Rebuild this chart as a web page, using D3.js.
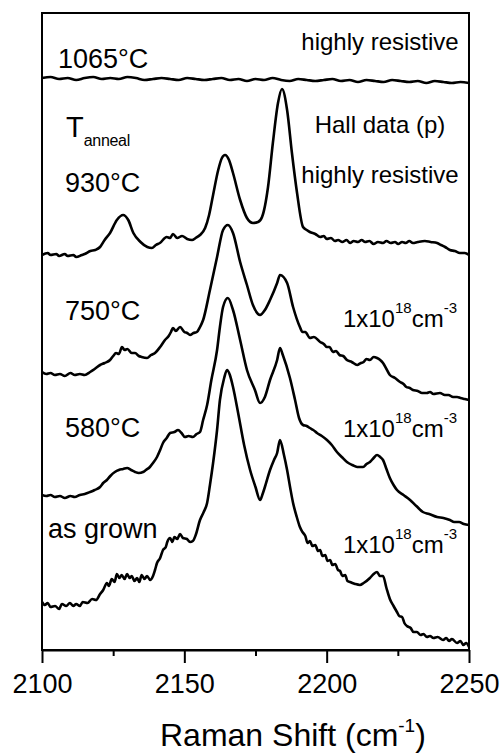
<!DOCTYPE html>
<html>
<head>
<meta charset="utf-8">
<script src="https://cdn.jsdelivr.net/npm/d3@7"></script>
<style>
  body { margin: 0; background: #fff; }
  svg { display: block; font-family: "Liberation Sans", Arial, sans-serif; }
  text { fill: #000; }
</style>
</head>
<body>
<div id="chart"></div>
<script>
// Raman spectra vs anneal temperature
// values: [Raman shift (cm-1), intensity (a.u., stacked)]

const xTicks = [2100, 2150, 2200, 2250]
const xMinorTicks = [2125, 2175, 2225]

const spec1065 = [
  [2100, 572], [2103, 573], [2106, 571], [2109, 572], [2112, 570], [2115, 572], [2118, 573],
  [2121, 571], [2124, 572], [2127, 571], [2130, 573], [2133, 572], [2136, 570], [2139, 571],
  [2142, 572], [2145, 571], [2148, 570], [2151, 572], [2154, 571], [2157, 570], [2160, 571],
  [2163, 572], [2166, 570], [2169, 571], [2172, 569], [2175, 571], [2178, 570], [2181, 572],
  [2184, 570], [2187, 569], [2190, 571], [2193, 570], [2196, 569], [2199, 570], [2202, 571],
  [2205, 569], [2208, 570], [2211, 568], [2214, 570], [2217, 569], [2220, 568], [2223, 570],
  [2226, 569], [2229, 568], [2232, 569], [2235, 567], [2238, 569], [2241, 568], [2244, 567],
  [2247, 568], [2250, 567]
]

const spec930 = [
  [2100, 395], [2102, 397], [2103, 395], [2105, 396], [2106, 394], [2108, 396], [2109, 394],
  [2111, 395], [2112, 393], [2114, 395], [2115, 396], [2117, 399], [2118.7, 400],
  [2120.4, 403], [2122, 410], [2123.9, 417], [2126.3, 430], [2128.5, 435], [2130.3, 430], [2132.1, 417],
  [2134.6, 408], [2137, 403], [2138.6, 402], [2140, 405], [2141.4, 407], [2143.8, 413], [2145, 412],
  [2146, 416], [2147.5, 412], [2149.2, 414], [2151, 411], [2152.7, 410], [2154, 412], [2155.5, 415],
  [2157.3, 422], [2158.7, 435], [2160.1, 455], [2161.9, 480], [2163.2, 492], [2164.3, 495],
  [2165.7, 490], [2167.1, 477], [2169.6, 450], [2172, 432], [2174.1, 427], [2175.9, 428],
  [2177.3, 433], [2179.4, 463], [2181.1, 507], [2182.9, 547], [2184.3, 561], [2186.1, 540],
  [2187.8, 497], [2189.6, 457], [2191.7, 423], [2193, 420], [2194.1, 418], [2196, 416],
  [2197.7, 413], [2199, 414], [2200, 411], [2201.5, 412], [2202.9, 409], [2204, 410],
  [2205.5, 408], [2207, 410], [2208.2, 407], [2209.5, 409], [2211, 408], [2212.3, 410],
  [2213.5, 408], [2215, 409], [2216.5, 406], [2218, 408], [2219.8, 407], [2221, 409],
  [2222.5, 407], [2224, 408], [2225.1, 406], [2226.5, 408], [2227.8, 407], [2229, 409],
  [2230.3, 407], [2232, 408], [2234.5, 409], [2236.5, 408], [2238.8, 407], [2240.2, 405],
  [2241.6, 403], [2243.3, 400], [2245, 399], [2246.8, 397], [2248.5, 397], [2250, 395]
]

const spec750 = [
  [2100, 278], [2101.5, 276], [2103, 277], [2104.5, 275], [2106.3, 276], [2108, 274],
  [2110, 277], [2111.5, 275], [2113.3, 276], [2115, 275], [2116.9, 278], [2118.5, 281],
  [2120.4, 285], [2122, 287], [2123.9, 290], [2125, 294], [2126, 297], [2127, 296],
  [2128.1, 303], [2129, 300], [2130, 301], [2131.5, 297], [2132.7, 297], [2134, 294],
  [2135, 293], [2136.9, 292], [2138.3, 295], [2139.7, 297], [2141.5, 303], [2143.2, 310],
  [2144.5, 314], [2145.3, 318], [2146, 322], [2147, 319], [2148.5, 323], [2150, 318],
  [2151, 317], [2152, 315], [2153.2, 317], [2154.4, 318], [2155.5, 323], [2156.6, 330],
  [2159, 360], [2161.5, 393], [2163.6, 420], [2165.3, 425], [2167.1, 417], [2169.6, 388],
  [2172, 365], [2174.1, 345], [2176.6, 335], [2178.3, 340], [2180.1, 350], [2182.6, 367],
  [2183.6, 375], [2186.1, 367], [2188.2, 343], [2190.6, 323], [2191.5, 318], [2192.5, 318],
  [2194.1, 312], [2195.5, 313], [2197.7, 308], [2199, 306], [2200, 303], [2201, 303],
  [2202.2, 298], [2203.3, 299], [2204.5, 295], [2205.8, 294], [2207.1, 290], [2208.8, 288],
  [2210.7, 285], [2212, 287], [2213, 288], [2214, 291], [2215.2, 290], [2216.5, 293],
  [2217.7, 292], [2218.8, 290], [2219.8, 287], [2221, 281], [2222.2, 275], [2224, 272],
  [2225.8, 268], [2227, 266], [2228, 263], [2229.2, 262], [2230.3, 260], [2232, 259],
  [2233.5, 257], [2235.2, 257], [2236.3, 258], [2237.5, 256], [2239.8, 257], [2241.5, 255],
  [2242.8, 255], [2244.4, 253], [2245.8, 253], [2247, 252], [2248.5, 251], [2250, 250]
]

const spec580 = [
  [2100, 155], [2101.5, 154], [2103, 155], [2104.5, 153], [2106.3, 154], [2108, 152],
  [2110, 154], [2111.5, 153], [2113.3, 155], [2115, 156], [2116.9, 158], [2118.5, 160],
  [2120.4, 163], [2121.5, 167], [2122.8, 170], [2124, 174], [2125.6, 178], [2127, 180],
  [2128.5, 181], [2129.9, 182], [2131.3, 180], [2132.7, 178], [2134, 177], [2135.5, 178],
  [2136.5, 180], [2137.9, 183], [2139, 187], [2140.4, 193], [2141.5, 200], [2142.5, 207],
  [2143.8, 212], [2145, 217], [2146.5, 218], [2147.8, 220], [2149, 217], [2150.2, 213],
  [2151.5, 214], [2153, 213], [2154.3, 216], [2155.5, 218], [2156.6, 230], [2158, 245],
  [2159.5, 270], [2161.5, 300], [2162.5, 323], [2163.6, 343], [2165.3, 352], [2167.1, 340],
  [2169.6, 310], [2172, 280], [2174.8, 260], [2176.6, 247], [2178.3, 253], [2180.1, 270],
  [2182.6, 290], [2183.6, 302], [2184.6, 295], [2187.1, 272], [2188.9, 250], [2190.3, 232],
  [2191.7, 225], [2193, 224], [2194.1, 222], [2195.3, 220], [2196.6, 217], [2198.3, 214],
  [2200.1, 210], [2201.8, 205], [2203.6, 198], [2205.3, 193], [2207.1, 188], [2209, 185],
  [2210.7, 183], [2212.8, 183], [2214, 186], [2215.2, 188], [2216.5, 192], [2217.7, 195],
  [2218.8, 193], [2219.8, 190], [2221, 181], [2222.2, 172], [2223.5, 165], [2224.7, 160],
  [2227, 155], [2229.3, 150], [2231.5, 144], [2233.8, 138], [2236, 136], [2238.8, 133],
  [2241, 132], [2243.3, 130], [2244.8, 128], [2246.5, 128], [2248.2, 126], [2250, 125]
]

const specGrown = [
  [2100, 48], [2101, 45], [2102, 47], [2103, 43], [2104.6, 44], [2106, 41], [2107, 46],
  [2108.5, 44], [2109.8, 47], [2111, 44], [2112, 46], [2113.3, 44], [2114.3, 48], [2116, 47],
  [2117.6, 51], [2119, 50], [2120.4, 56], [2121.5, 60], [2122.8, 67], [2123.5, 64],
  [2124.5, 71], [2125.5, 68], [2126.3, 76], [2127.2, 72], [2128, 75], [2129, 71],
  [2129.9, 76], [2130.8, 72], [2131.5, 74], [2132.5, 69], [2133.4, 72], [2134.2, 68],
  [2135, 75], [2136, 71], [2136.9, 74], [2138, 70], [2139, 74], [2139.7, 80], [2140.4, 87],
  [2141.5, 92], [2142.5, 100], [2143.5, 103], [2144, 108], [2145, 112], [2145.8, 108],
  [2146.5, 113], [2147.5, 111], [2148.5, 116], [2149.5, 112], [2150.9, 111], [2152, 108],
  [2153, 109], [2154, 115], [2155.5, 130], [2156.8, 138], [2158, 147], [2159, 165],
  [2160.1, 187], [2161.5, 220], [2162.5, 250], [2164, 272], [2165, 280], [2166, 275],
  [2167.1, 263], [2168.9, 237], [2171, 205], [2173.1, 180], [2175, 163], [2176.6, 150],
  [2177.5, 156], [2178.3, 163], [2180.1, 180], [2181.5, 190], [2182.6, 197], [2183.6, 210],
  [2185, 195], [2186.1, 180], [2187.2, 162], [2188.2, 147], [2189.5, 133], [2190.6, 123],
  [2191.5, 118], [2192.5, 114], [2193.3, 107], [2194.1, 109], [2195, 104], [2196, 105],
  [2197, 99], [2197.7, 100], [2198.5, 94], [2199.5, 95], [2200.3, 89], [2201.2, 90],
  [2202, 85], [2203, 86], [2204, 80], [2204.7, 79], [2205.5, 74], [2206.5, 75], [2207.3, 69],
  [2208.2, 68], [2210, 66], [2211.7, 65], [2213, 67], [2215.2, 72], [2216.5, 76],
  [2217.7, 78], [2218.7, 74], [2219.8, 74], [2221, 62], [2222.2, 51], [2223.5, 44],
  [2224.7, 38], [2225.5, 34], [2226.5, 33], [2227.3, 27], [2228.2, 24], [2229.5, 22],
  [2230.5, 18], [2231.7, 18], [2233, 15], [2234, 16], [2235.2, 13], [2236.3, 14],
  [2237.5, 12], [2239, 13], [2240.9, 10], [2242, 12], [2243, 9], [2244, 11], [2245.8, 7],
  [2247, 9], [2248, 5], [2249, 7], [2250, 3]
]

const spectra = [spec1065, spec930, spec750, spec580, specGrown]

const tempLabels = [
  {text: '1065°C', x: 58, y: 68},
  {text: '930°C', x: 65, y: 192},
  {text: '750°C', x: 65, y: 320},
  {text: '580°C', x: 65, y: 437},
  {text: 'as grown', x: 48, y: 538},
]
const carrierLabels = [327, 437, 553]

// chart setup
const width = 500
const height = 754
const margin = {top: 13, right: 31, bottom: 104, left: 42}

const svg = d3.select('#chart')
  .append('svg')
  .attr('width', width)
  .attr('height', height)

const x = d3.scaleLinear()
  .domain([2100, 2250])
  .range([margin.left, width - margin.right])

const y = d3.scaleLinear()
  .domain([0, 637])
  .range([height - margin.bottom, margin.top])

// spectra
const line = d3.line()
  .x(d => x(d[0]))
  .y(d => y(d[1]))
  .curve(d3.curveMonotoneX)

svg.selectAll('path.spec')
  .data(spectra)
  .enter()
  .append('path')
  .attr('class', 'spec')
  .attr('d', line)
  .attr('fill', 'none')
  .attr('stroke', '#000')
  .attr('stroke-width', 2.6)
  .attr('stroke-linejoin', 'round')

// frame
svg.append('rect')
  .attr('x', margin.left)
  .attr('y', margin.top)
  .attr('width', width - margin.left - margin.right)
  .attr('height', height - margin.top - margin.bottom)
  .attr('fill', 'none')
  .attr('stroke', '#000')
  .attr('stroke-width', 2)

// x axis
const xAxis = svg.append('g')
  .attr('transform', `translate(0,${height - margin.bottom})`)
  .call(d3.axisBottom(x).tickValues(xTicks).tickSize(13).tickSizeOuter(0).tickPadding(11)
    .tickFormat(d3.format('d')))

xAxis.call(g => g.select('.domain').attr('stroke-width', 2))
xAxis.selectAll('.tick line').attr('stroke-width', 2)
xAxis.selectAll('.tick text')
  .attr('font-size', 27)
  .attr('font-family', '"Liberation Sans", Arial, sans-serif')
  .attr('fill', '#000')

svg.append('g')
  .attr('transform', `translate(0,${height - margin.bottom})`)
  .call(d3.axisBottom(x).tickValues(xMinorTicks).tickSize(6).tickSizeOuter(0).tickFormat(''))
  .call(g => g.select('.domain').remove())
  .selectAll('.tick line').attr('stroke-width', 2)

// axis title
const title = svg.append('text')
  .attr('x', 160)
  .attr('y', 746)
  .attr('font-size', 32)
title.append('tspan').text('Raman Shift (cm')
title.append('tspan').attr('dy', -14).attr('font-size', 19).text('-1')
title.append('tspan').attr('dy', 14).text(')')

// temperature labels
svg.selectAll('text.temp')
  .data(tempLabels)
  .enter()
  .append('text')
  .attr('class', 'temp')
  .attr('x', d => d.x)
  .attr('y', d => d.y)
  .attr('font-size', 27)
  .text(d => d.text)

const tAnneal = svg.append('text').attr('x', 66).attr('y', 137).attr('font-size', 29)
tAnneal.append('tspan').text('T')
tAnneal.append('tspan').attr('dy', 9).attr('font-size', 16).attr('letter-spacing', -0.3).text('anneal')

// Hall data labels
svg.append('text').attr('x', 380).attr('y', 50).attr('font-size', 24)
  .attr('text-anchor', 'middle').text('highly resistive')
svg.append('text').attr('x', 380).attr('y', 133).attr('font-size', 24)
  .attr('text-anchor', 'middle').text('Hall data (p)')
svg.append('text').attr('x', 380).attr('y', 183).attr('font-size', 24)
  .attr('text-anchor', 'middle').text('highly resistive')

carrierLabels.forEach(yPos => {
  let t = svg.append('text')
    .attr('x', 457)
    .attr('y', yPos)
    .attr('font-size', 24)
    .attr('text-anchor', 'end')
  t.append('tspan').text('1x10')
  t.append('tspan').attr('dy', -14).attr('font-size', 15).text('18')
  t.append('tspan').attr('dy', 14).text('cm')
  t.append('tspan').attr('dy', -14).attr('font-size', 15).text('-3')
})
</script>
</body>
</html>
